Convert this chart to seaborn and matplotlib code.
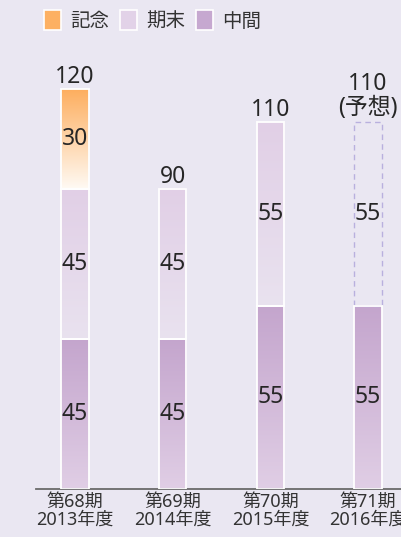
import numpy as np
import matplotlib
matplotlib.use("Agg")
import matplotlib.pyplot as plt
from matplotlib.colors import LinearSegmentedColormap
from matplotlib.patches import Patch
import seaborn as sns

# Dividend per share by fiscal period
periods = ["第68期\n2013年度", "第69期\n2014年度", "第70期\n2015年度", "第71期\n2016年度"]
interim = [45, 45, 55, 55]          # 中間
year_end = [45, 45, 55, 55]         # 期末
commemorative = [30, 0, 0, 0]       # 記念
totals = [120, 90, 110, 110]
forecast = [False, False, False, True]

sns.set_theme(style="white")
plt.rcParams["font.family"] = ["Noto Sans", "Noto Sans CJK JP", "DejaVu Sans"]

BG = "#eae7f2"
TEXT = "#262626"

# gradient (top, bottom) per layer, plus the legend swatch colour
layers = [
    ("記念", commemorative, "#fdae5e", "#fffaf4", "#fdb062"),
    ("期末", year_end, "#e1cfe6", "#e9e2ef", "#e2d2e8"),
    ("中間", interim, "#c4a5cd", "#e0cee5", "#c6a8d0"),
]

fig = plt.figure(figsize=(4.02, 5.37), dpi=100, facecolor=BG)
ax = fig.add_axes([36 / 402, 48 / 537, 366 / 402, (489 - 59) / 537])
ax.set_facecolor(BG)

bottoms = {
    "中間": np.zeros(4),
    "期末": np.array(interim, float),
    "記念": np.array(interim, float) + np.array(year_end, float),
}

# stacked bars: cumulative heights drawn from the top layer down
cum = {}
running = np.zeros(4)
for name, vals, *_ in reversed(layers):
    running = running + np.array(vals, float)
    cum[name] = running.copy()


def gradient(x0, x1, y0, y1, c_top, c_bot):
    cmap = LinearSegmentedColormap.from_list("g", [c_bot, c_top])
    grad = np.linspace(0, 1, 256).reshape(-1, 1)
    ax.imshow(grad, extent=[x0, x1, y0, y1], origin="lower", cmap=cmap,
              aspect="auto", zorder=1, interpolation="bicubic")


for name, vals, c_top, c_bot, solid in layers:
    n0 = len(ax.patches)
    sns.barplot(x=periods, y=cum[name], ax=ax, width=0.28, color=solid,
                saturation=1, linewidth=0)
    for i, p in enumerate(ax.patches[n0:]):
        v = vals[i]
        b = bottoms[name][i]
        x0, w = p.get_x(), p.get_width()
        p.set_y(b)
        p.set_height(v)
        if v == 0:
            p.set_visible(False)
            continue
        if forecast[i] and name == "期末":
            p.set_facecolor("none")
            p.set_edgecolor("#b9b0de")
            p.set_linestyle((0, (4, 3)))
            p.set_linewidth(1.0)
            p.set_zorder(3)
        else:
            gradient(x0, x0 + w, b, b + v, c_top, c_bot)
            p.set_facecolor("none")
            p.set_edgecolor("white")
            p.set_linewidth(1.3)
            p.set_zorder(3)
        ax.text(x0 + w / 2, b + v / 2, f"{v}", ha="center", va="center",
                fontsize=16.5, color=TEXT, zorder=4)

# totals above the bars
for i, t in enumerate(totals):
    label = f"{t}\n(予想)" if forecast[i] else f"{t}"
    ax.annotate(label, xy=(i, t), xytext=(0, 0 if not forecast[i] else 2),
                textcoords="offset points", ha="center", va="bottom",
                fontsize=16.5, color=TEXT, linespacing=0.95)

ax.set_xlim(-0.40, 3.348)
ax.set_ylim(0, 129)
ax.set_yticks([])
ax.set_xlabel("")
ax.set_ylabel("")
for s in ["top", "left", "right"]:
    ax.spines[s].set_visible(False)
ax.spines["bottom"].set_color("#6a6a6a")
ax.spines["bottom"].set_linewidth(1.3)
ax.tick_params(axis="x", length=0, pad=3, labelsize=13, labelcolor="#333333")
for lab in ax.get_xticklabels():
    lab.set_linespacing(1.0)

handles = [Patch(facecolor=s, edgecolor="white", linewidth=1.2) for _, _, _, _, s in layers]
fig.legend(handles, [l[0] for l in layers], loc="center left",
           bbox_to_anchor=(40 / 402, 1 - 21 / 537), ncol=3, frameon=False,
           fontsize=14, handlelength=0.9, handleheight=1.2,
           handletextpad=0.45, columnspacing=0.55, labelcolor="#333333",
           borderaxespad=0, borderpad=0.2)

fig.savefig("out.png", dpi=100, facecolor=BG)
